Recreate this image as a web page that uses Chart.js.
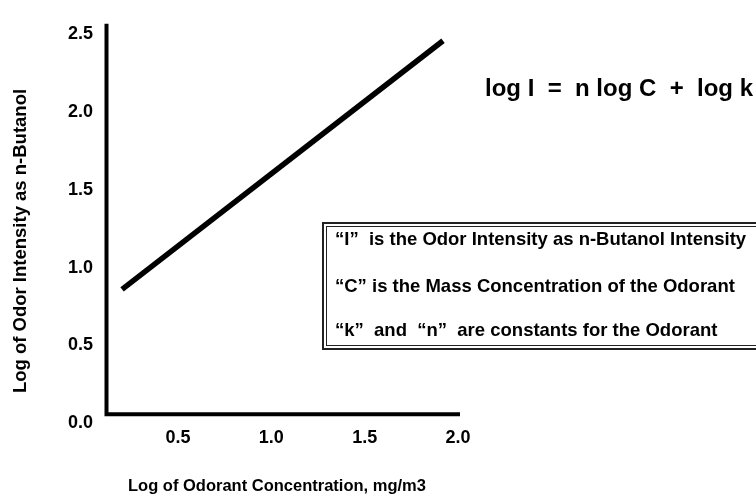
<!DOCTYPE html>
<html>
<head>
<meta charset="utf-8">
<script src="https://cdn.jsdelivr.net/npm/chart.js@4.4.0/dist/chart.umd.min.js"></script>
<style>
    body { margin: 0; background: #fff; }
    canvas { display: block; }
</style>
</head>
<body>
<canvas id="chart" width="756" height="498"></canvas>
<script>
// log concentration vs log intensity (two end points of the straight line)
const logConcentration = [0.20, 1.92];
const logIntensity = [0.86, 2.46];

const xTickValues = [0.5, 1.0, 1.5, 2.0];
const yTickValues = [0.0, 0.5, 1.0, 1.5, 2.0, 2.5];

const xTitle = 'Log of Odorant Concentration, mg/m3';
const yTitle = 'Log of Odor Intensity as n-Butanol';
const equation = 'log I  =  n log C  +  log k';
const notes = [
    '\u201cI\u201d  is the Odor Intensity as n-Butanol Intensity',
    '\u201cC\u201d is the Mass Concentration of the Odorant',
    '\u201ck\u201d  and  \u201cn\u201d  are constants for the Odorant'
];

const FONT = '"Liberation Sans", Arial, sans-serif';

// axes, titles, equation and the note box
const decorations = {
    id: 'decorations',
    afterDraw(chart) {
        const ctx = chart.ctx;
        const area = chart.chartArea;
        const yScale = chart.scales.y;
        const axisY = yScale.getPixelForValue(0.057);

        ctx.save();
        ctx.strokeStyle = '#000';
        ctx.lineWidth = 4;
        ctx.lineCap = 'butt';
        ctx.beginPath();
        ctx.moveTo(area.left + 0.5, area.top);
        ctx.lineTo(area.left + 0.5, axisY + 2);
        ctx.moveTo(area.left - 1.5, axisY);
        ctx.lineTo(area.right, axisY);
        ctx.stroke();

        ctx.fillStyle = '#000';
        ctx.textAlign = 'center';
        ctx.textBaseline = 'middle';
        ctx.font = 'bold 16.5px ' + FONT;
        ctx.fillText(xTitle, 277, 486);

        ctx.save();
        ctx.translate(21, 241);
        ctx.rotate(-Math.PI / 2);
        ctx.font = 'bold 18.5px ' + FONT;
        ctx.fillText(yTitle, 0, 0);
        ctx.restore();

        ctx.textAlign = 'left';
        ctx.font = 'bold 24px ' + FONT;
        ctx.fillText(equation, 485, 89);

        // double-line box
        ctx.strokeStyle = '#222';
        ctx.lineWidth = 2;
        ctx.strokeRect(323, 223, 450, 126);
        ctx.lineWidth = 1;
        ctx.strokeRect(326.5, 226.5, 440, 119);

        ctx.font = 'bold 18.5px ' + FONT;
        const rows = [240, 287, 331];
        notes.forEach((t, i) => ctx.fillText(t, 335, rows[i]));
        ctx.restore();
    }
};

new Chart(document.getElementById('chart'), {
    type: 'line',
    data: {
        labels: logConcentration,
        datasets: [{
            data: logConcentration.map((x, i) => ({x: x, y: logIntensity[i]})),
            borderColor: '#000',
            borderWidth: 5.5,
            pointRadius: 0,
            tension: 0,
            fill: false
        }]
    },
    options: {
        responsive: false,
        animation: false,
        devicePixelRatio: 1,
        layout: {padding: {top: 15, right: 296, left: 0, bottom: 0}},
        plugins: {legend: {display: false}, tooltip: {enabled: false}},
        scales: {
            x: {
                type: 'linear',
                min: 0.114,
                max: 2.011,
                afterFit: s => { s.height = 75; },
                afterBuildTicks: s => { s.ticks = xTickValues.map(v => ({value: v})); },
                grid: {display: false, drawTicks: false},
                border: {display: false},
                ticks: {
                    padding: 4,
                    color: '#000',
                    font: {family: FONT, size: 18, weight: 'bold'},
                    callback: v => v.toFixed(1)
                }
            },
            y: {
                min: 0,
                max: 2.569,
                afterFit: s => { s.width = 106; },
                afterBuildTicks: s => { s.ticks = yTickValues.map(v => ({value: v})); },
                grid: {display: false, drawTicks: false},
                border: {display: false},
                ticks: {
                    padding: 13,
                    color: '#000',
                    font: {family: FONT, size: 18, weight: 'bold'},
                    callback: v => v.toFixed(1)
                }
            }
        }
    },
    plugins: [decorations]
});
</script>
</body>
</html>
